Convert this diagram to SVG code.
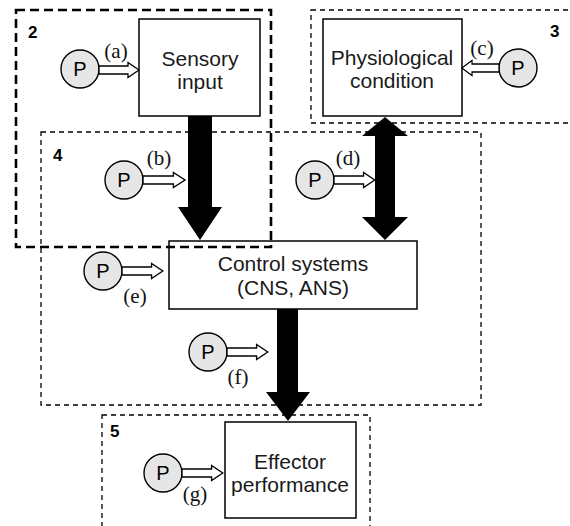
<svg xmlns="http://www.w3.org/2000/svg" width="570" height="526" viewBox="0 0 570 526">
  <style>
    .box { fill: #fff; stroke: #000; stroke-width: 1.5; }
    .zone { fill: none; stroke: #000; stroke-width: 1.3; stroke-dasharray: 5 4; }
    .zone-thick { fill: none; stroke: #000; stroke-width: 2.6; stroke-dasharray: 9 5; }
    .label { font-family: "Liberation Sans", Arial, sans-serif; font-size: 21px; text-anchor: middle; fill: #1a1a1a; }
    .num { font-family: "Liberation Sans", Arial, sans-serif; font-size: 17px; font-weight: bold; fill: #000; }
    .tag { font-family: "Liberation Serif", "Times New Roman", serif; font-size: 21px; text-anchor: middle; fill: #111; }
    .pcirc { fill: #e6e6e6; stroke: #000; stroke-width: 1.4; }
    .ptext { font-family: "Liberation Sans", Arial, sans-serif; font-size: 20px; text-anchor: middle; fill: #000; }
    .hollow { fill: #fff; stroke: #000; stroke-width: 1.3; stroke-linejoin: miter; }
    .solid { fill: #000; stroke: none; }
  </style>
  <defs>
    <!-- hollow influence arrow, 40 px long, pointing right from origin -->
    <path id="harrow" class="hollow" d="M0,-4 H29 V-7.5 L40,0 L29,7.5 V4 H0 Z"/>
    <g id="pnode">
      <circle class="pcirc" r="19"/>
      <text class="ptext" y="7">P</text>
    </g>
  </defs>

  <rect width="570" height="526" fill="#fff"/>

  <!-- region outlines -->
  <g id="zones">
    <rect id="zone-4" class="zone" x="41" y="132" width="440" height="273"/>
    <rect id="zone-3" class="zone" x="311" y="10" width="270" height="113"/>
    <rect id="zone-5" class="zone" x="102" y="415" width="268" height="130"/>
  </g>

  <!-- nodes -->
  <g id="sensory">
    <rect class="box" x="139" y="19" width="121" height="97"/>
    <text class="label" x="200" y="66">Sensory</text>
    <text class="label" x="200" y="89">input</text>
  </g>
  <g id="physiological">
    <rect class="box" x="323" y="19" width="139" height="97"/>
    <text class="label" x="392" y="65">Physiological</text>
    <text class="label" x="392" y="88">condition</text>
  </g>
  <g id="control">
    <rect class="box" x="169" y="241" width="248" height="68"/>
    <text class="label" x="293" y="271">Control systems</text>
    <text class="label" x="293" y="295">(CNS, ANS)</text>
  </g>
  <g id="effector">
    <rect class="box" x="225" y="422" width="131" height="96"/>
    <text class="label" x="290" y="469">Effector</text>
    <text class="label" x="290" y="492">performance</text>
  </g>

  <!-- main connectors -->
  <g id="connectors">
    <path class="solid" d="M188,116 H212 V207 H222 L200,240 L178,207 H188 Z"/>
    <path class="solid" d="M385,117 L408,136 H395 V217 H408 L385,240 L362,217 H375 V136 H362 Z"/>
    <path class="solid" d="M277,309 H298 V392 H310 L288,421 L266,392 H277 Z"/>
  </g>

  <!-- thick dashed region drawn last so it crosses the control box -->
  <rect id="zone-2" class="zone-thick" x="16" y="10" width="255" height="237"/>

  <g id="zone-numbers">
    <text class="num" x="28" y="38">2</text>
    <text class="num" x="550" y="37">3</text>
    <text class="num" x="53" y="161">4</text>
    <text class="num" x="110" y="437">5</text>
  </g>

  <!-- P influences -->
  <g id="p-a">
    <use href="#pnode" x="80" y="69"/>
    <use href="#harrow" transform="translate(99,70)"/>
    <text class="tag" x="116" y="58">(a)</text>
  </g>
  <g id="p-b">
    <use href="#pnode" x="124" y="180"/>
    <use href="#harrow" transform="translate(143,180) scale(1.05,1)"/>
    <text class="tag" x="159" y="165">(b)</text>
  </g>
  <g id="p-c">
    <use href="#pnode" x="518" y="68"/>
    <use href="#harrow" transform="translate(499,68) scale(-0.93,1)"/>
    <text class="tag" x="482" y="55">(c)</text>
  </g>
  <g id="p-d">
    <use href="#pnode" x="315" y="180"/>
    <use href="#harrow" transform="translate(334,180) scale(1.02,1)"/>
    <text class="tag" x="348" y="165">(d)</text>
  </g>
  <g id="p-e">
    <use href="#pnode" x="103" y="271"/>
    <use href="#harrow" transform="translate(122,271) scale(1.02,1)"/>
    <text class="tag" x="135" y="303">(e)</text>
  </g>
  <g id="p-f">
    <use href="#pnode" x="208" y="352"/>
    <use href="#harrow" transform="translate(227,352) scale(1.02,1)"/>
    <text class="tag" x="238" y="384">(f)</text>
  </g>
  <g id="p-g">
    <use href="#pnode" x="163" y="473"/>
    <use href="#harrow" transform="translate(182,473) scale(1.02,1)"/>
    <text class="tag" x="195" y="501">(g)</text>
  </g>
</svg>
